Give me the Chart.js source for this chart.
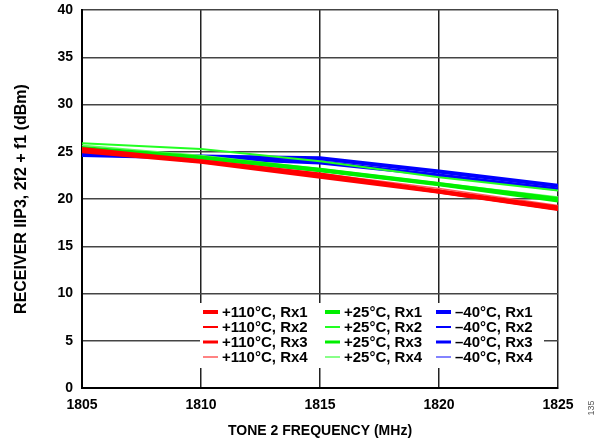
<!DOCTYPE html>
<html>
<head>
<meta charset="utf-8">
<script src="https://cdn.jsdelivr.net/npm/chart.js@4.4.1/dist/chart.umd.min.js"></script>
<style>
  body { margin: 0; background: #fff; }
</style>
</head>
<body>
<canvas id="grafica" width="600" height="442"></canvas>
<script>
// datos (dBm)
const frecuencias = [1805, 1810, 1815, 1820, 1825];
const ticksY = [0, 5, 10, 15, 20, 25, 30, 35, 40];

const rojoRx1 = [25.3, 24.0, 22.6, 20.8, 19.0];
const rojoRx2 = [25.1, 24.0, 22.4, 20.9, 19.2];
const rojoRx3 = [25.0, 23.9, 22.3, 20.7, 18.9];
const rojoRx4 = [25.2, 24.1, 22.7, 21.1, 19.3];

const verdeRx1 = [25.4, 24.4, 23.1, 21.6, 20.0];
const verdeRx2 = [25.9, 25.3, 24.0, 22.3, 20.9];
const verdeRx3 = [25.3, 24.3, 23.0, 21.5, 19.8];
const verdeRx4 = [25.7, 24.6, 23.2, 21.7, 20.2];

const azulRx1 = [24.7, 24.5, 24.3, 22.9, 21.4];
const azulRx2 = [24.6, 24.4, 24.0, 22.6, 21.1];
const azulRx3 = [24.6, 24.3, 23.8, 22.5, 21.0];
const azulRx4 = [24.8, 24.5, 24.2, 22.8, 21.3];

const etiquetas = [
  "+110°C, Rx1", "+110°C, Rx2", "+110°C, Rx3", "+110°C, Rx4",
  "+25°C, Rx1", "+25°C, Rx2", "+25°C, Rx3", "+25°C, Rx4",
  "\u201340°C, Rx1", "\u201340°C, Rx2", "\u201340°C, Rx3", "\u201340°C, Rx4"
];
const series = [rojoRx1, rojoRx2, rojoRx3, rojoRx4,
                verdeRx1, verdeRx2, verdeRx3, verdeRx4,
                azulRx1, azulRx2, azulRx3, azulRx4];
const colores = ["#ff0000", "#ff0000", "#ff0000", "#ff5a5a",
                 "#00ee00", "#22ff22", "#00ee00", "#60ff60",
                 "#0000ff", "#0000ff", "#0000ff", "#5a5aff"];
const grosores = [4, 2, 3, 1.5];

const fuente = "'Liberation Sans', Arial, sans-serif";

const datasets = series.map((s, i) => ({
  label: etiquetas[i],
  data: s.map((v, j) => ({ x: frecuencias[j], y: v })),
  borderColor: colores[i],
  backgroundColor: colores[i],
  borderWidth: grosores[i % 4],
  pointRadius: 0,
  tension: 0
}));

// leyenda dentro del area, 3 columnas x 4 filas
const leyenda = {
  id: "leyenda",
  afterDatasetsDraw(chart) {
    const ctx = chart.ctx;
    ctx.save();
    ctx.fillStyle = "#fff";
    ctx.fillRect(200, 303, 344, 65);
    const colX = [203, 325, 436];
    const filaY = [312, 327, 342, 357];
    ctx.font = "bold 15px " + fuente;
    ctx.textBaseline = "middle";
    chart.data.datasets.forEach((d, i) => {
      const c = Math.floor(i / 4), f = i % 4;
      const x = colX[c], y = filaY[f];
      ctx.strokeStyle = d.borderColor;
      ctx.lineWidth = d.borderWidth;
      ctx.beginPath();
      ctx.moveTo(x, y);
      ctx.lineTo(x + 15, y);
      ctx.stroke();
      ctx.fillStyle = "#000";
      ctx.fillText(d.label, x + 19, y + 1);
    });
    // número de figura
    ctx.translate(592, 408);
    ctx.rotate(-Math.PI / 2);
    ctx.font = "9px " + fuente;
    ctx.fillStyle = "#555";
    ctx.textAlign = "center";
    ctx.fillText("135", 0, 0);
    ctx.restore();
  }
};

new Chart(document.getElementById("grafica").getContext("2d"), {
  type: "line",
  data: { datasets },
  options: {
    responsive: false,
    animation: false,
    layout: { padding: { top: 10, right: 42, bottom: 0, left: 0 } },
    plugins: { legend: { display: false }, tooltip: { enabled: false } },
    scales: {
      x: {
        type: "linear",
        min: 1805, max: 1825,
        afterFit(s) { s.height = 54; s.paddingLeft = 0; s.paddingRight = 0; },
        afterBuildTicks(s) { s.ticks = frecuencias.map(v => ({ value: v })); },
        ticks: { color: "#000", font: { family: fuente, size: 14, weight: "bold" }, padding: 9, maxRotation: 0,
                 callback: v => String(v) },
        grid: { color: "#222", lineWidth: 1.5, drawTicks: false },
        border: { color: "#000", width: 2 },
        title: { display: true, text: "TONE 2 FREQUENCY (MHz)", color: "#000",
                 font: { family: fuente, size: 14, weight: "bold" }, padding: { top: 6, bottom: 2 } }
      },
      y: {
        min: 0, max: 40,
        afterFit(s) { s.width = 82; s.paddingTop = 0; s.paddingBottom = 0; },
        afterBuildTicks(s) { s.ticks = ticksY.map(v => ({ value: v })); },
        ticks: { color: "#000", font: { family: fuente, size: 14, weight: "bold" }, padding: 9 },
        grid: { color: "#444", lineWidth: 1.5, drawTicks: false },
        border: { color: "#000", width: 2 },
        title: { display: true, text: "RECEIVER IIP3, 2f2 + f1 (dBm)", color: "#000",
                 font: { family: fuente, size: 16, weight: "bold" }, padding: { top: 12, bottom: 0 } }
      }
    }
  },
  plugins: [leyenda]
});
</script>
</body>
</html>
